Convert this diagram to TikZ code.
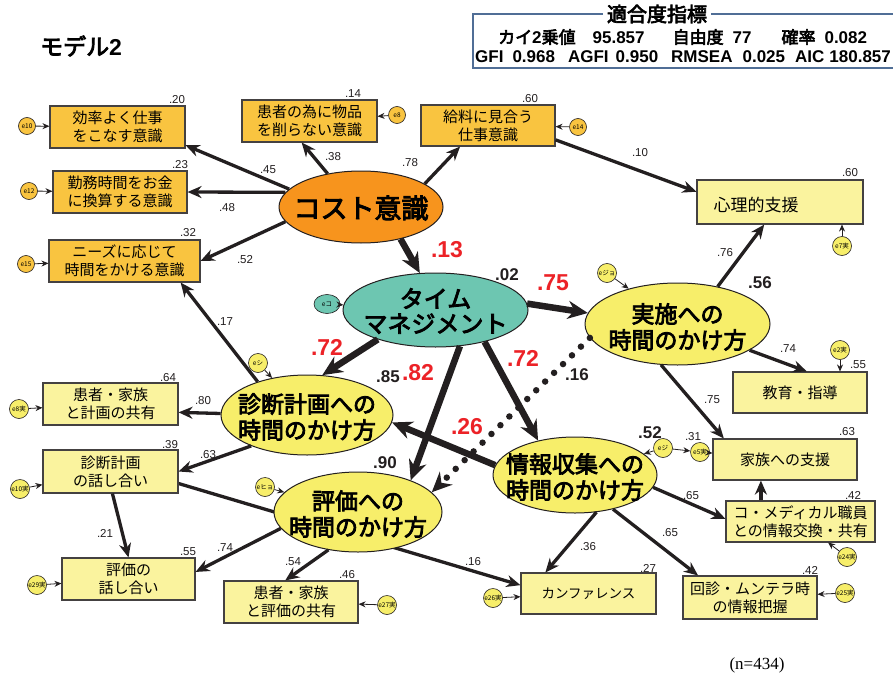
\documentclass[tikz,border=0pt]{standalone}
\usepackage{fontspec}
\setmainfont{Noto Sans CJK JP}[AutoFakeBold=3.5]
\newfontfamily\numf{Liberation Sans}
\newfontfamily\serf{Liberation Serif}
\usetikzlibrary{shapes.geometric,arrows.meta,backgrounds}
\definecolor{cOB}{HTML}{F9C440}
\definecolor{cCost}{HTML}{F7941D}
\definecolor{cTeal}{HTML}{6DC6B1}
\definecolor{cYel}{HTML}{F7EE6A}
\definecolor{cYB}{HTML}{FAF39E}
\definecolor{cRed}{HTML}{EC2227}
\definecolor{cInk}{HTML}{231F20}
\definecolor{cFit}{HTML}{506E96}
\begin{document}
\begin{tikzpicture}[x=1pt,y=-1pt,
 ob/.style={draw=cInk!85, line width=1.1pt, fill=cOB, align=center, inner sep=0pt, font=\fontsize{15}{18}\selectfont},
 yb/.style={ob, fill=cYB},
 lat/.style={ellipse, draw=cInk, line width=1pt, inner sep=0pt},
 lt/.style={align=center, inner sep=0pt, font=\fontsize{23}{26}\selectfont\bfseries},
 err/.style={circle, draw=cInk, line width=0.6pt, fill=cOB, minimum size=17pt, inner sep=0pt, font=\fontsize{6.5}{7}\selectfont},
 erry/.style={err, fill=cYel, minimum size=19pt},
 pth/.style={draw=cInk, line width=3.3pt, -{Stealth[length=14pt,width=12pt]}},
 thk/.style={draw=cInk, line width=6.5pt, -{Stealth[length=20pt,width=18pt]}},
 ea/.style={draw=cInk, line width=0.8pt, -{Stealth[length=7pt,width=6pt]}},
 lb/.style={inner sep=0pt, font=\numf\fontsize{11.5}{12}\selectfont, text=cInk},
 rl/.style={inner sep=0pt, font=\numf\bfseries\fontsize{23}{24}\selectfont, text=cRed},
 bk/.style={inner sep=0pt, font=\numf\bfseries\fontsize{17}{18}\selectfont, text=cInk},
]
\useasboundingbox (0,0) rectangle (893,682);

% title
\node[anchor=west, inner sep=0pt, font=\fontsize{23}{24}\selectfont\bfseries] (title) at (40,46) {モデル{\numf 2}};

% fit box
\draw[cFit, line width=1.3pt] (893,14) -- (473,14) -- (473,68) -- (893,68);
\node[fill=white, inner xsep=4pt, inner ysep=0pt, font=\fontsize{20}{22}\selectfont\bfseries] (fitT) at (657,14) {適合度指標};
\node[anchor=west, inner sep=0pt, font=\fontsize{17}{18}\selectfont\bfseries] (fit1) at (498,37) {カイ{\numf 2}乗値\hspace{17pt}{\numf 95.857}\hspace{28pt}自由度\hspace{9pt}{\numf 77}\hspace{30pt}確率\hspace{9pt}{\numf 0.082}};
\node[anchor=west, inner sep=0pt, font=\numf\fontsize{17}{18}\selectfont\bfseries] (fit2) at (475,57) {GFI\hspace{9pt}0.968\hspace{13pt}AGFI\hspace{7pt}0.950\hspace{13pt}RMSEA\hspace{10pt}0.025\hspace{10pt}AIC\hspace{5pt}180.857};

% boxes
\node[ob, minimum width=135pt, minimum height=42pt] (b1) at (117.5,127) {効率よく仕事\\をこなす意識};
\node[ob, minimum width=134pt, minimum height=42pt] (b2) at (120,192) {勤務時間をお金\\に換算する意識};
\node[ob, minimum width=151pt, minimum height=42pt] (b3) at (124.5,261) {ニーズに応じて\\時間をかける意識};
\node[ob, minimum width=135pt, minimum height=42pt] (b4) at (309.5,121) {患者の為に物品\\を削らない意識};
\node[ob, minimum width=134pt, minimum height=41pt] (b5) at (488,125.5) {給料に見合う\\仕事意識};
\node[yb, minimum width=166pt, minimum height=44pt] (psy) at (780,202) {};
\node[inner sep=0pt, font=\fontsize{17}{18}\selectfont] (psyt) at (756,205) {心理的支援};
\node[yb, minimum width=134pt, minimum height=41pt] (edu) at (800,392.5) {教育・指導};
\node[yb, minimum width=135pt, minimum height=42pt] (share) at (110.5,404) {患者・家族\\と計画の共有};
\node[yb, minimum width=135pt, minimum height=43pt] (talk) at (110.5,471.5) {診断計画\\の話し合い};
\node[yb, minimum width=133pt, minimum height=42pt] (hytalk) at (128.5,579) {評価の\\話し合い};
\node[yb, minimum width=134pt, minimum height=42pt] (hyshare) at (291,602) {患者・家族\\と評価の共有};
\node[yb, minimum width=135pt, minimum height=41pt, font=\fontsize{13.5}{16}\selectfont] (conf) at (588.5,593.5) {カンファレンス};
\node[yb, minimum width=134pt, minimum height=43pt] (kaishin) at (750,597.5) {回診・ムンテラ時\\の情報把握};
\node[yb, minimum width=144pt, minimum height=41pt] (kazoku) at (785,459.5) {家族への支援};
\node[yb, minimum width=149pt, minimum height=41pt] (comed) at (800.5,521.5) {コ・メディカル職員\\との情報交換・共有};

% latent ellipses
\node[lat, fill=cCost, minimum width=164pt, minimum height=72pt] (cost) at (361,207) {};
\node[lt, font=\fontsize{27}{28}\selectfont\bfseries] (costT) at (361,208) {コスト意識};
\node[lat, fill=cTeal, minimum width=185pt, minimum height=74pt] (time) at (435.5,310) {};
\node[lt, font=\fontsize{24}{25}\selectfont\bfseries] (timeT) at (435.5,311) {タイム\\マネジメント};
\node[lat, fill=cYel, minimum width=185pt, minimum height=82pt] (jisshi) at (677.5,324) {};
\node[lt] (jisshiT) at (677.5,327) {実施への\\時間のかけ方};
\node[lat, fill=cYel, minimum width=172pt, minimum height=80pt] (shindan) at (307,415) {};
\node[lt] (shindanT) at (307,417) {診断計画への\\時間のかけ方};
\node[lat, fill=cYel, minimum width=168pt, minimum height=80pt] (hyouka) at (358,512) {};
\node[lt] (hyoukaT) at (358,514) {評価への\\時間のかけ方};
\node[lat, fill=cYel, minimum width=164pt, minimum height=76pt] (joho) at (575,475) {};
\node[lt] (johoT) at (575,477) {情報収集への\\時間のかけ方};

% error terms
\node[err] (e10) at (27,126) {e10};
\node[err] (e12) at (29,191) {e12};
\node[err] (e15) at (26,264) {e15};
\node[err] (e8) at (397,115) {e8};
\node[err] (e14) at (578,127) {e14};
\node[erry] (e7) at (842,246) {e7実};
\node[ellipse, draw=cInk, line width=0.6pt, fill=cTeal, minimum width=26pt, minimum height=19pt, inner sep=0pt, font=\fontsize{6.5}{7}\selectfont] (eko) at (327,304) {eコ};
\node[erry] (ejo) at (607,273) {eジョ};
\node[erry] (eshi) at (258,363) {eシ};
\node[erry] (ehyo) at (265,487) {eヒョ};
\node[erry] (eji) at (663,448) {eジ};
\node[erry] (e5) at (700,452) {e5実};
\node[erry] (e2) at (840,350) {e2実};
\node[erry] (e8j) at (19,409) {e8実};
\node[erry] (e10j) at (20,489) {e10実};
\node[erry] (e29) at (37,585) {e29実};
\node[erry] (e27) at (387,605) {e27実};
\node[erry] (e26) at (493,598) {e26実};
\node[erry] (e24) at (847,557) {e24実};
\node[erry] (e25) at (845,593) {e25実};

% error arrows
\draw[ea] (e10) -- (b1);
\draw[ea] (e12) -- (b2);
\draw[ea] (e15) -- (b3);
\draw[ea] (e8) -- (b4);
\draw[ea] (e14) -- (b5);
\draw[ea] (e7) -- (e7 |- psy.south);
\draw[ea] (eko) -- (time);
\draw[ea] (ejo) -- (jisshi);
\draw[ea] (eshi) -- (shindan);
\draw[ea] (ehyo) -- (hyouka);
\draw[ea] (eji) -- (joho);
\draw[ea] (eji) -- (e5);
\draw[ea] (e5) -- (kazoku);
\draw[ea] (e2) -- (e2 |- edu.north);
\draw[ea] (e8j) -- (share);
\draw[ea] (e10j) -- (talk);
\draw[ea] (e29) -- (hytalk);
\draw[ea] (e27) -- (hyshare);
\draw[ea] (e26) -- (conf);
\draw[ea] (e24) -- (comed);
\draw[ea] (e25) -- (kaishin);

% background path behind the evaluation ellipse
\begin{pgfonlayer}{background}
\fill[white] (0,0) rectangle (893,682);
\draw[pth] (talk.-10) -- (conf.173);
\end{pgfonlayer}

% paths from cost
\draw[pth] (cost.166.8) -- (b1.-15);
\draw[pth] (cost.169.5) -- (b2.east);
\draw[pth] (cost.191.4) -- (b3.east);
\draw[pth] (cost.135.3) -- (b4.-110);
\draw[pth] (cost.20.9) -- (b5.-143);
\draw[pth] (b5.-12) -- (psy.173);
\draw[thk] (cost.-39.6) -- (time.113.3);

% from time management
\draw[thk] (time.4) -- (jisshi.173);
\draw[thk] (time.207) -- (shindan.69);
\draw[thk] (time.-56) -- (hyouka.31.4);
\draw[thk] (time.-33.7) -- (joho.137.7);
\draw[thk] (joho.173) -- (shindan.-5.6);
\draw[cInk, line width=6.5pt, line cap=round, dash pattern=on 0pt off 12.5pt, -{Stealth[length=20pt,width=18pt]}] (jisshi.189.2) -- (hyouka.15.4);

% from jisshi
\draw[pth] (jisshi.43.6) -- (psy.-125);
\draw[pth] (jisshi.-20.4) -- (edu.72);
\draw[pth] (jisshi.248.4) -- (kazoku.161);

% from shindan
\draw[pth] (shindan.146.2) -- (b3.-21);
\draw[pth] (shindan.179) -- (share.-7);
\draw[pth] (shindan.209) -- (talk.east);
\draw[pth] (talk.-85) -- (hytalk.north);

% from hyouka
\draw[pth] (hyouka.192.5) -- (hytalk.6);
\draw[pth] (hyouka.232.6) -- (hyshare.105);

% from joho
\draw[pth] (joho.-9.6) -- (comed.178);
\draw[pth] (joho.-42.3) -- (kaishin.157);
\draw[pth] (joho.-60) -- (conf.154);
\draw[draw=cInk, line width=3.8pt, -{Stealth[length=14pt,width=12pt]}] (comed.152) -- (comed.152 |- kazoku.south);

% labels
\node[lb] (l01) at (268,170) {.45};
\node[lb] (l02) at (227,208) {.48};
\node[lb] (l03) at (245,260) {.52};
\node[lb] (l04) at (333,157) {.38};
\node[lb] (l05) at (410,163) {.78};
\node[lb] (l06) at (640,153) {.10};
\node[lb] (l07) at (177,100) {.20};
\node[lb] (l08) at (180,165) {.23};
\node[lb] (l09) at (188,233) {.32};
\node[lb] (l10) at (353,94) {.14};
\node[lb] (l11) at (530,99) {.60};
\node[lb] (l12) at (850,173) {.60};
\node[lb] (l13) at (725,253) {.76};
\node[lb] (l14) at (788,349) {.74};
\node[lb] (l15) at (858,365) {.55};
\node[lb] (l16) at (712,400) {.75};
\node[lb] (l17) at (225,322) {.17};
\node[lb] (l18) at (203,401) {.80};
\node[lb] (l19) at (168,378) {.64};
\node[lb] (l20) at (170,445) {.39};
\node[lb] (l21) at (208,455) {.63};
\node[lb] (l22) at (105,533) {.21};
\node[lb] (l23) at (188,552) {.55};
\node[lb] (l24) at (225,548) {.74};
\node[lb] (l25) at (293,562) {.54};
\node[lb] (l26) at (347,575) {.46};
\node[lb] (l27) at (473,562) {.16};
\node[lb] (l28) at (588,547) {.36};
\node[lb] (l29) at (648,568) {.27};
\node[lb] (l30) at (670,533) {.65};
\node[lb] (l31) at (810,570) {.42};
\node[lb] (l32) at (691,496) {.65};
\node[lb] (l33) at (853,495) {.42};
\node[lb] (l34) at (847,432) {.63};
\node[lb] (l35) at (693,437) {.31};
\node[rl] (r1) at (447,250) {.13};
\node[rl] (r2) at (553,283) {.75};
\node[rl] (r3) at (327,347) {.72};
\node[rl] (r4) at (418,373) {.82};
\node[rl] (r5) at (523,358) {.72};
\node[rl] (r6) at (467,427) {.26};
\node[bk] (k1) at (507,275) {.02};
\node[bk] (k2) at (760,283) {.56};
\node[bk] (k3) at (388,377) {.85};
\node[bk] (k4) at (385,463) {.90};
\node[bk] (k5) at (650,433) {.52};
\node[bk] (k6) at (577,375) {.16};

\node[inner sep=0pt, font=\serf\fontsize{17}{18}\selectfont] (nn) at (757,665) {(n=434)};
\end{tikzpicture}
\end{document}
